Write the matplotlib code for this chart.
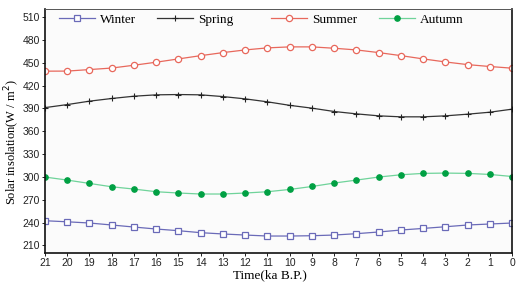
import matplotlib
matplotlib.use("Agg")
import matplotlib.pyplot as plt
from matplotlib.legend import Legend

time_ka = [21, 20, 19, 18, 17, 16, 15, 14, 13, 12, 11, 10, 9, 8, 7, 6, 5, 4, 3, 2, 1, 0]
winter = [242.4, 241.0, 239.4, 236.8, 234.1, 231.5, 229.3, 226.7, 225.0, 223.6, 222.3,
          222.3, 222.7, 223.6, 225.4, 227.6, 230.2, 232.3, 234.5, 236.8, 238.1, 239.4]
spring = [391.0, 395.0, 399.5, 403.0, 406.0, 407.8, 408.2, 407.8, 405.5, 402.5, 398.6,
          394.0, 390.3, 385.9, 382.8, 380.2, 378.9, 378.9, 380.2, 382.4, 385.0, 389.0]
summer = [438.9, 439.0, 441.0, 443.0, 446.7, 450.7, 455.0, 459.3, 463.3, 466.8, 469.5,
          470.8, 470.8, 469.0, 466.8, 463.3, 459.3, 455.0, 451.0, 447.5, 445.0, 442.8]
autumn = [299.8, 295.8, 291.4, 287.0, 284.0, 280.5, 278.8, 277.5, 277.5, 278.8, 280.5,
          283.5, 287.4, 291.9, 295.8, 299.8, 302.8, 304.6, 305.0, 304.6, 303.2, 300.5]
yticks = [210, 240, 270, 300, 330, 360, 390, 420, 450, 480, 510]

plt.rcParams["font.family"] = ["Liberation Sans", "DejaVu Sans"]
serif = ["Liberation Serif", "DejaVu Serif"]

fig = plt.figure(figsize=(5.22, 2.83), dpi=100)
ax = fig.add_axes([0.0862, 0.106, 0.895, 0.862])
ax.set_facecolor("#fbfbfb")

l1, = ax.plot(time_ka, winter, color="#6a6ab8", lw=0.9, marker="s", ms=4.5,
              mfc="white", mec="#6a6ab8", mew=0.9, label="Winter")
l2, = ax.plot(time_ka, spring, color="#333333", lw=0.9, marker="+", ms=5,
              mec="#222222", mew=0.8, label="Spring")
l3, = ax.plot(time_ka, summer, color="#e8685c", lw=0.9, marker="o", ms=4.5,
              mfc="white", mec="#e8685c", mew=0.9, label="Summer")
l4, = ax.plot(time_ka, autumn, color="#6fd39a", lw=0.9, marker="o", ms=3.8,
              mfc="#00a043", mec="#00a043", label="Autumn")

ax.set_xlim(21, 0)
ax.set_ylim(200, 520.5)
ax.set_xticks(time_ka)
ax.set_yticks(yticks)
ax.tick_params(axis="both", direction="out", length=2.5, width=0.7,
               labelsize=7.5, pad=1.2, colors="#222222")

for s in ["left", "bottom", "right"]:
    ax.spines[s].set_linewidth(1.2)
    ax.spines[s].set_color("#111111")
ax.spines["top"].set_linewidth(0.7)
ax.spines["top"].set_color("#555555")

ax.set_xlabel("Time(ka B.P.)", family=serif, fontsize=9.5)
ax.xaxis.set_label_coords(0.482, -0.066)
ax.set_ylabel("Solar insolation(W / m$^2$)", family=serif, fontsize=9.0)
ax.yaxis.set_label_coords(-0.05, 0.455)

# one legend box per entry so each sits where it does in the reference
positions = [0.030, 0.240, 0.484, 0.715]
for line, xpos in zip([l1, l2, l3, l4], positions):
    lg = Legend(ax, [line], [line.get_label()], loc="upper left", frameon=False,
                handlelength=2.75, handletextpad=0.35, borderpad=0,
                borderaxespad=0, prop={"family": serif, "size": 9.5},
                bbox_to_anchor=(xpos, 0.982))
    ax.add_artist(lg)

fig.savefig("out.png", dpi=100)
